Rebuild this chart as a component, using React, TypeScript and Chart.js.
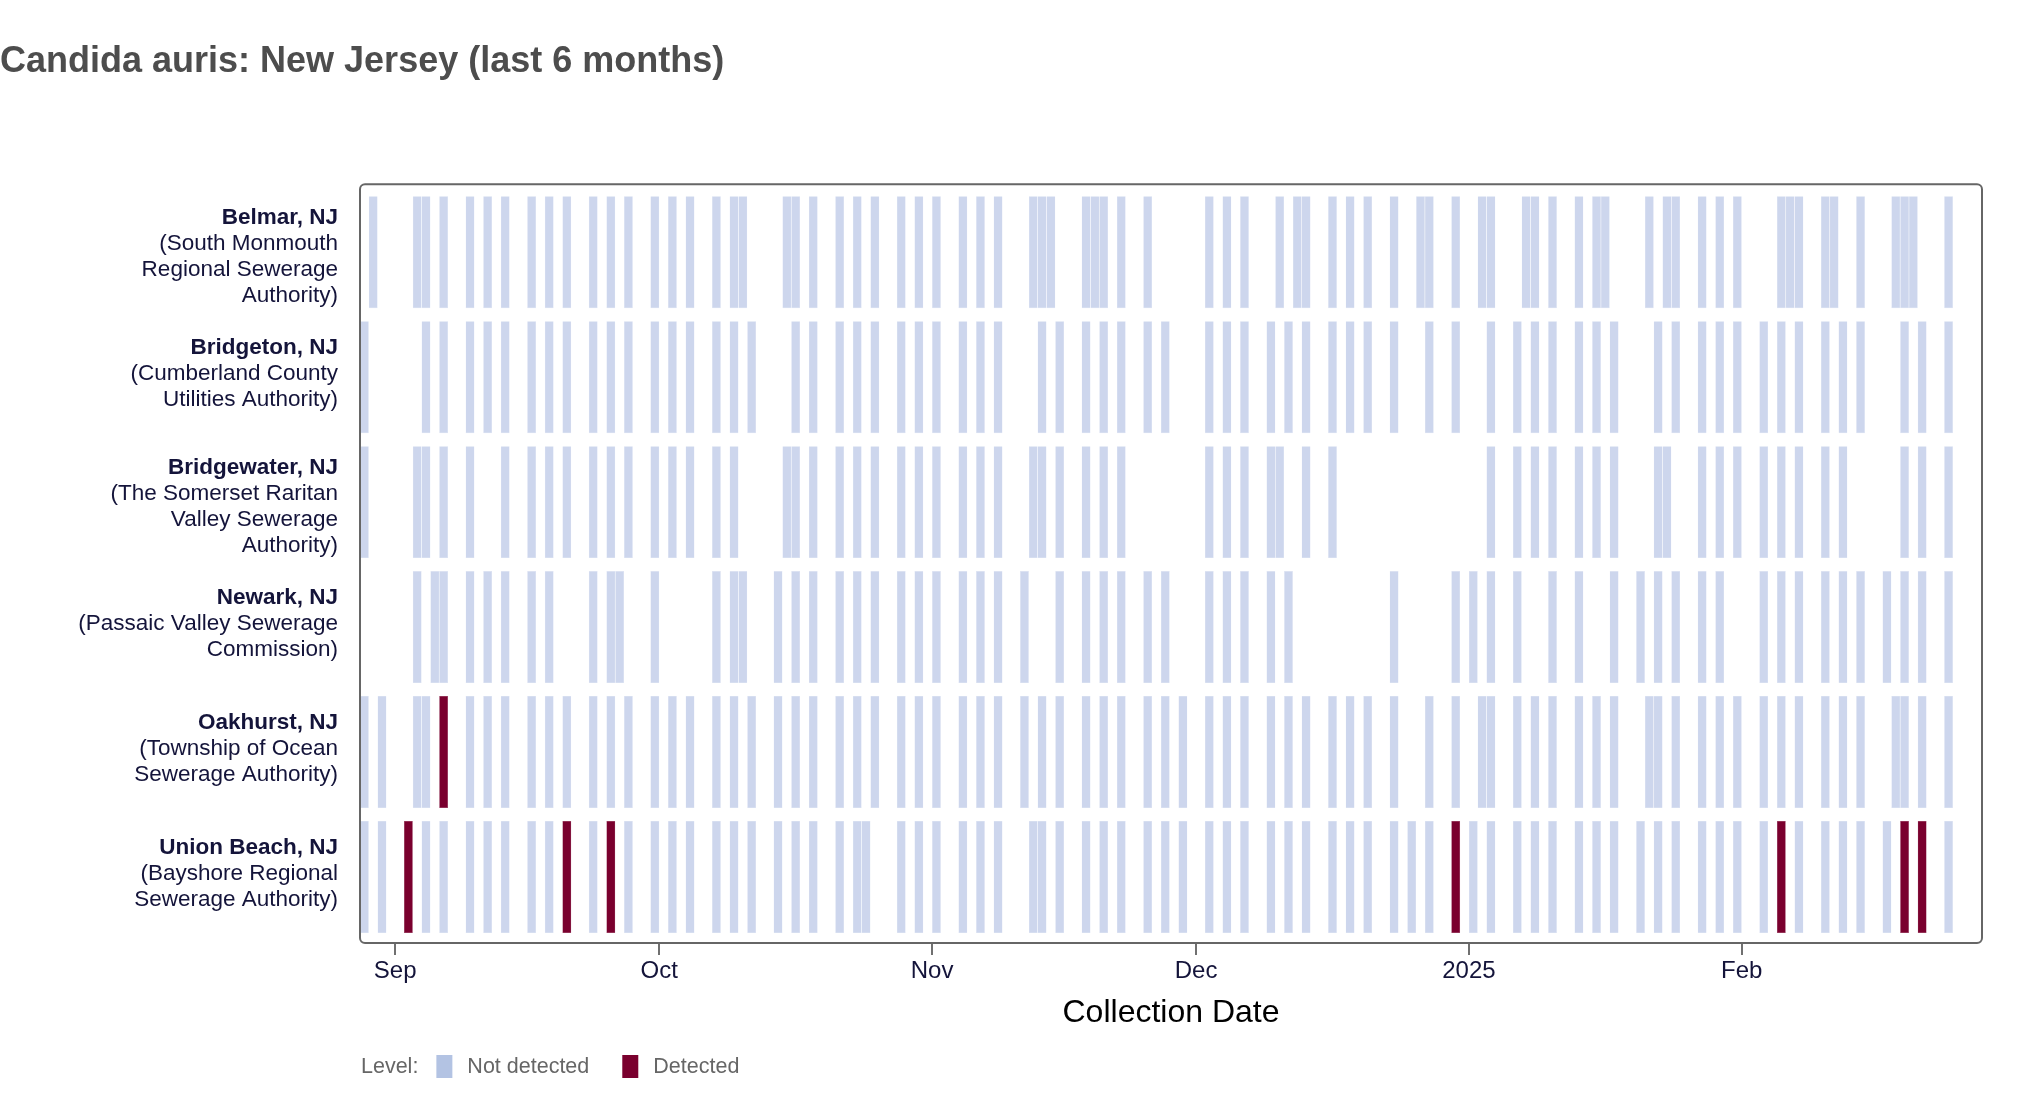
import React, { useEffect, useRef } from 'react';
import { Chart, registerables } from 'chart.js';

Chart.register(...registerables);

// ---------- DATA ----------
const siteKeys = ['belmar', 'bridgeton', 'bridgewater', 'newark', 'oakhurst', 'unionBeach'];
const siteNames = ['Belmar, NJ', 'Bridgeton, NJ', 'Bridgewater, NJ', 'Newark, NJ', 'Oakhurst, NJ', 'Union Beach, NJ'];
const siteAuthorities = [
  ['(South Monmouth', 'Regional Sewerage', 'Authority)'],
  ['(Cumberland County', 'Utilities Authority)'],
  ['(The Somerset Raritan', 'Valley Sewerage', 'Authority)'],
  ['(Passaic Valley Sewerage', 'Commission)'],
  ['(Township of Ocean', 'Sewerage Authority)'],
  ['(Bayshore Regional', 'Sewerage Authority)'],
];

const belmarDates = [
  '2024-08-29', '2024-09-03', '2024-09-04', '2024-09-06', '2024-09-09', '2024-09-11', '2024-09-13', '2024-09-16',
  '2024-09-18', '2024-09-20', '2024-09-23', '2024-09-25', '2024-09-27', '2024-09-30', '2024-10-02', '2024-10-04',
  '2024-10-07', '2024-10-09', '2024-10-10', '2024-10-15', '2024-10-16', '2024-10-18', '2024-10-21', '2024-10-23',
  '2024-10-25', '2024-10-28', '2024-10-30', '2024-11-01', '2024-11-04', '2024-11-06', '2024-11-08', '2024-11-12',
  '2024-11-13', '2024-11-14', '2024-11-18', '2024-11-19', '2024-11-20', '2024-11-22', '2024-11-25', '2024-12-02',
  '2024-12-04', '2024-12-06', '2024-12-10', '2024-12-12', '2024-12-13', '2024-12-16', '2024-12-18', '2024-12-20',
  '2024-12-23', '2024-12-26', '2024-12-27', '2024-12-30', '2025-01-02', '2025-01-03', '2025-01-07', '2025-01-08',
  '2025-01-10', '2025-01-13', '2025-01-15', '2025-01-16', '2025-01-21', '2025-01-23', '2025-01-24', '2025-01-27',
  '2025-01-29', '2025-01-31', '2025-02-05', '2025-02-06', '2025-02-07', '2025-02-10', '2025-02-11', '2025-02-14',
  '2025-02-18', '2025-02-19', '2025-02-20', '2025-02-24',
];
const bridgetonDates = [
  '2024-08-28', '2024-09-04', '2024-09-06', '2024-09-09', '2024-09-11', '2024-09-13', '2024-09-16', '2024-09-18',
  '2024-09-20', '2024-09-23', '2024-09-25', '2024-09-27', '2024-09-30', '2024-10-02', '2024-10-04', '2024-10-07',
  '2024-10-09', '2024-10-11', '2024-10-16', '2024-10-18', '2024-10-21', '2024-10-23', '2024-10-25', '2024-10-28',
  '2024-10-30', '2024-11-01', '2024-11-04', '2024-11-06', '2024-11-08', '2024-11-13', '2024-11-15', '2024-11-18',
  '2024-11-20', '2024-11-22', '2024-11-25', '2024-11-27', '2024-12-02', '2024-12-04', '2024-12-06', '2024-12-09',
  '2024-12-11', '2024-12-13', '2024-12-16', '2024-12-18', '2024-12-20', '2024-12-23', '2024-12-27', '2024-12-30',
  '2025-01-03', '2025-01-06', '2025-01-08', '2025-01-10', '2025-01-13', '2025-01-15', '2025-01-17', '2025-01-22',
  '2025-01-24', '2025-01-27', '2025-01-29', '2025-01-31', '2025-02-03', '2025-02-05', '2025-02-07', '2025-02-10',
  '2025-02-12', '2025-02-14', '2025-02-19', '2025-02-21', '2025-02-24',
];
const bridgewaterDates = [
  '2024-08-28', '2024-09-03', '2024-09-04', '2024-09-06', '2024-09-09', '2024-09-13', '2024-09-16', '2024-09-18',
  '2024-09-20', '2024-09-23', '2024-09-25', '2024-09-27', '2024-09-30', '2024-10-02', '2024-10-04', '2024-10-07',
  '2024-10-09', '2024-10-15', '2024-10-16', '2024-10-18', '2024-10-21', '2024-10-23', '2024-10-25', '2024-10-28',
  '2024-10-30', '2024-11-01', '2024-11-04', '2024-11-06', '2024-11-08', '2024-11-12', '2024-11-13', '2024-11-15',
  '2024-11-18', '2024-11-20', '2024-11-22', '2024-12-02', '2024-12-04', '2024-12-06', '2024-12-09', '2024-12-10',
  '2024-12-13', '2024-12-16', '2025-01-03', '2025-01-06', '2025-01-08', '2025-01-10', '2025-01-13', '2025-01-15',
  '2025-01-17', '2025-01-22', '2025-01-23', '2025-01-27', '2025-01-29', '2025-01-31', '2025-02-03', '2025-02-05',
  '2025-02-07', '2025-02-10', '2025-02-12', '2025-02-19', '2025-02-21', '2025-02-24',
];
const newarkDates = [
  '2024-09-03', '2024-09-05', '2024-09-06', '2024-09-09', '2024-09-11', '2024-09-13', '2024-09-16', '2024-09-18',
  '2024-09-23', '2024-09-25', '2024-09-26', '2024-09-30', '2024-10-07', '2024-10-09', '2024-10-10', '2024-10-14',
  '2024-10-16', '2024-10-18', '2024-10-21', '2024-10-23', '2024-10-25', '2024-10-28', '2024-10-30', '2024-11-01',
  '2024-11-04', '2024-11-06', '2024-11-08', '2024-11-11', '2024-11-15', '2024-11-18', '2024-11-20', '2024-11-22',
  '2024-11-25', '2024-11-27', '2024-12-02', '2024-12-04', '2024-12-06', '2024-12-09', '2024-12-11', '2024-12-23',
  '2024-12-30', '2025-01-01', '2025-01-03', '2025-01-06', '2025-01-10', '2025-01-13', '2025-01-17', '2025-01-20',
  '2025-01-22', '2025-01-24', '2025-01-27', '2025-01-29', '2025-02-03', '2025-02-05', '2025-02-07', '2025-02-10',
  '2025-02-12', '2025-02-14', '2025-02-17', '2025-02-19', '2025-02-21', '2025-02-24',
];
const oakhurstDates = [
  '2024-08-28', '2024-08-30', '2024-09-03', '2024-09-04', '2024-09-06', '2024-09-09', '2024-09-11', '2024-09-13',
  '2024-09-16', '2024-09-18', '2024-09-20', '2024-09-23', '2024-09-25', '2024-09-27', '2024-09-30', '2024-10-02',
  '2024-10-04', '2024-10-07', '2024-10-09', '2024-10-11', '2024-10-14', '2024-10-16', '2024-10-18', '2024-10-21',
  '2024-10-23', '2024-10-25', '2024-10-28', '2024-10-30', '2024-11-01', '2024-11-04', '2024-11-06', '2024-11-08',
  '2024-11-11', '2024-11-13', '2024-11-15', '2024-11-18', '2024-11-20', '2024-11-22', '2024-11-25', '2024-11-27',
  '2024-11-29', '2024-12-02', '2024-12-04', '2024-12-06', '2024-12-09', '2024-12-11', '2024-12-13', '2024-12-16',
  '2024-12-18', '2024-12-20', '2024-12-23', '2024-12-27', '2024-12-30', '2025-01-02', '2025-01-03', '2025-01-06',
  '2025-01-08', '2025-01-10', '2025-01-13', '2025-01-15', '2025-01-17', '2025-01-21', '2025-01-22', '2025-01-24',
  '2025-01-27', '2025-01-29', '2025-01-31', '2025-02-03', '2025-02-05', '2025-02-07', '2025-02-10', '2025-02-12',
  '2025-02-14', '2025-02-18', '2025-02-19', '2025-02-21', '2025-02-24',
];
const unionBeachDates = [
  '2024-08-28', '2024-08-30', '2024-09-02', '2024-09-04', '2024-09-06', '2024-09-09', '2024-09-11', '2024-09-13',
  '2024-09-16', '2024-09-18', '2024-09-20', '2024-09-23', '2024-09-25', '2024-09-27', '2024-09-30', '2024-10-02',
  '2024-10-04', '2024-10-07', '2024-10-09', '2024-10-11', '2024-10-14', '2024-10-16', '2024-10-18', '2024-10-21',
  '2024-10-23', '2024-10-24', '2024-10-28', '2024-10-30', '2024-11-01', '2024-11-04', '2024-11-06', '2024-11-08',
  '2024-11-12', '2024-11-13', '2024-11-15', '2024-11-18', '2024-11-20', '2024-11-22', '2024-11-25', '2024-11-27',
  '2024-11-29', '2024-12-02', '2024-12-04', '2024-12-06', '2024-12-09', '2024-12-11', '2024-12-13', '2024-12-16',
  '2024-12-18', '2024-12-20', '2024-12-23', '2024-12-25', '2024-12-27', '2024-12-30', '2025-01-01', '2025-01-03',
  '2025-01-06', '2025-01-08', '2025-01-10', '2025-01-13', '2025-01-15', '2025-01-17', '2025-01-20', '2025-01-22',
  '2025-01-24', '2025-01-27', '2025-01-29', '2025-01-31', '2025-02-03', '2025-02-05', '2025-02-07', '2025-02-10',
  '2025-02-12', '2025-02-14', '2025-02-17', '2025-02-19', '2025-02-21', '2025-02-24',
];

const belmarDetected: string[] = [];
const bridgetonDetected: string[] = [];
const bridgewaterDetected: string[] = [];
const newarkDetected: string[] = [];
const oakhurstDetected = ['2024-09-06'];
const unionBeachDetected = ['2024-09-02', '2024-09-20', '2024-09-25', '2024-12-30', '2025-02-05', '2025-02-19', '2025-02-21'];

const monthTickDates = ['2024-09-01', '2024-10-01', '2024-11-01', '2024-12-01', '2025-01-01', '2025-02-01'];
const monthTickLabels = ['Sep', 'Oct', 'Nov', 'Dec', '2025', 'Feb'];
const axisStartDate = '2024-08-28T00:00:00Z';
const axisEndDate = '2025-02-28T07:12:00Z';

const levelLabels = ['Not detected', 'Detected'];
const levelLegendColors = ['#b3c3e3', '#7a002e'];
const levelTileColors = ['#cdd6ed', '#7a002e'];
const levelTileEdgeColors = ['#dae0f1', '#86244c'];

const chartTitle = 'Candida auris: New Jersey (last 6 months)';
const xAxisTitle = 'Collection Date';
const legendTitle = 'Level:';

// ---------- HELPERS ----------
const FONT = "'Liberation Sans', Arial, Helvetica, sans-serif";
const ORIGIN = Date.parse('2024-09-01T00:00:00Z');
const dayOf = (s: string) => (Date.parse(s.length === 10 ? s + 'T00:00:00Z' : s) - ORIGIN) / 86400000;

const siteDates = [belmarDates, bridgetonDates, bridgewaterDates, newarkDates, oakhurstDates, unionBeachDates];
const siteDetected = [belmarDetected, bridgetonDetected, bridgewaterDetected, newarkDetected, oakhurstDetected, unionBeachDetected];

function buildTiles() {
  const notDetected: any[] = [];
  const detected: any[] = [];
  siteKeys.forEach((_key, i) => {
    siteDates[i].forEach((d) => {
      const start = dayOf(d);
      const item = { x: [start, start + 1], y: i };
      if (siteDetected[i].includes(d)) detected.push(item);
      else notDetected.push(item);
    });
  });
  return [notDetected, detected];
}

// label blocks are centred like the original text grobs (taller blocks sit a little lower)
const labelLineCount = (i: number) => 1 + siteAuthorities[i].length;
const labelNudge = (i: number) => (labelLineCount(i) - 3.4) * 0.062;

const panelBorderPlugin = {
  id: 'panelBorder',
  afterLayout(chart: any) {
    // the second label axis shares the label column of the first one
    const y = chart.scales.y;
    const y2 = chart.scales.y2;
    if (y && y2) {
      y2.left = y.left;
      y2.right = y.right;
      y2.width = y.width;
    }
  },
  afterDatasetsDraw(chart: any) {
    const { ctx, chartArea } = chart;
    const { left, top, right, bottom } = chartArea;
    ctx.save();
    ctx.strokeStyle = '#666666';
    ctx.lineWidth = 2;
    ctx.beginPath();
    (ctx as any).roundRect(left, top, right - left, bottom - top, 5);
    ctx.stroke();
    ctx.restore();
  },
};

const levelLegendPlugin = {
  id: 'levelLegend',
  afterDraw(chart: any) {
    const { ctx, chartArea } = chart;
    const cy = chartArea.bottom + 124;
    ctx.save();
    ctx.font = `21.5px ${FONT}`;
    ctx.fillStyle = '#666666';
    ctx.textBaseline = 'middle';
    ctx.textAlign = 'left';
    let x = chartArea.left + 1;
    ctx.fillText(legendTitle, x, cy);
    x += ctx.measureText(legendTitle).width + 18;
    levelLabels.forEach((label, i) => {
      ctx.fillStyle = levelLegendColors[i];
      ctx.fillRect(x, cy - 12, 16, 23);
      x += 16 + 15;
      ctx.fillStyle = '#666666';
      ctx.fillText(label, x, cy);
      x += ctx.measureText(label).width + 33;
    });
    ctx.restore();
  },
};

const rowRange = {
  type: 'linear',
  position: 'left',
  reverse: true,
  offset: false,
  bounds: 'data',
  grace: 0,
  min: -0.544,
  max: siteKeys.length - 1 + 0.528,
  grid: { display: false, drawTicks: false, offset: false },
  border: { display: false },
};

export default function App() {
  const canvasRef = useRef<HTMLCanvasElement | null>(null);

  useEffect(() => {
    if (!canvasRef.current) return;
    const [notDetectedTiles, detectedTiles] = buildTiles();
    const common = {
      yAxisID: 'rows',
      borderWidth: 0.3,
      borderSkipped: false,
      grouped: false,
      categoryPercentage: 1,
      barPercentage: 0.896,
    };
    const chart = new Chart(canvasRef.current, {
      type: 'bar',
      data: {
        datasets: [
          {
            ...common,
            label: levelLabels[0],
            data: notDetectedTiles,
            backgroundColor: levelTileColors[0],
            borderColor: levelTileEdgeColors[0],
          } as any,
          {
            ...common,
            label: levelLabels[1],
            data: detectedTiles,
            backgroundColor: levelTileColors[1],
            borderColor: levelTileEdgeColors[1],
          } as any,
        ],
      },
      options: {
        indexAxis: 'y',
        responsive: false,
        animation: false,
        events: [],
        layout: { padding: { left: 0, right: 40, top: 0, bottom: 60 } },
        plugins: {
          legend: { display: false },
          tooltip: { enabled: false },
          title: {
            display: true,
            text: chartTitle,
            align: 'start',
            color: '#4d4d4d',
            font: { family: FONT, size: 36, weight: 'bold', lineHeight: 1.2 },
            padding: { top: 40.5, bottom: 100.5 },
          },
        },
        scales: {
          x: {
            type: 'linear',
            position: 'bottom',
            min: dayOf(axisStartDate),
            max: dayOf(axisEndDate),
            afterBuildTicks: (scale: any) => {
              scale.ticks = monthTickDates.map((d) => ({ value: dayOf(d) }));
            },
            afterFit: (scale: any) => {
              scale.height = 91;
            },
            ticks: {
              autoSkip: false,
              maxRotation: 0,
              padding: 2,
              color: '#14143a',
              font: { family: FONT, size: 24 },
              callback: (_v: any, i: number) => monthTickLabels[i],
            },
            grid: {
              display: true,
              drawOnChartArea: false,
              drawTicks: true,
              tickLength: 12,
              color: '#707070',
              lineWidth: 2,
            },
            border: { display: false },
            title: {
              display: true,
              text: xAxisTitle,
              color: '#000000',
              font: { family: FONT, size: 32, lineHeight: 1.2 },
              padding: { top: 0, bottom: 2 },
            },
          },
          rows: {
            ...rowRange,
            display: false,
            weight: 0,
            afterBuildTicks: (scale: any) => {
              scale.ticks = siteKeys.map((_k, i) => ({ value: i }));
            },
          },
          y: {
            ...rowRange,
            weight: 2,
            afterBuildTicks: (scale: any) => {
              scale.ticks = siteKeys.map((_k, i) => ({ value: i + labelNudge(i) }));
            },
            afterFit: (scale: any) => {
              scale.width = 360;
            },
            ticks: {
              padding: 22,
              color: '#14143a',
              font: { family: FONT, size: 22.5, weight: 'bold', lineHeight: '26px' },
              callback: (_v: any, i: number) => [siteNames[i], ...siteAuthorities[i].map(() => '')],
            },
          },
          y2: {
            ...rowRange,
            weight: 1,
            afterBuildTicks: (scale: any) => {
              scale.ticks = siteKeys.map((_k, i) => ({ value: i + labelNudge(i) }));
            },
            afterFit: (scale: any) => {
              scale.width = 0;
            },
            ticks: {
              padding: 22,
              color: '#14143a',
              font: { family: FONT, size: 22.5, weight: 'normal', lineHeight: '26px' },
              callback: (_v: any, i: number) => ['', ...siteAuthorities[i]],
            },
          },
        },
      } as any,
      plugins: [panelBorderPlugin, levelLegendPlugin],
    });
    return () => chart.destroy();
  }, []);

  return (
    <div style={{ position: 'absolute', left: 0, top: 0, width: 2022, height: 1094, background: '#ffffff' }}>
      <canvas ref={canvasRef} width={2022} height={1094} style={{ display: 'block' }} />
    </div>
  );
}
